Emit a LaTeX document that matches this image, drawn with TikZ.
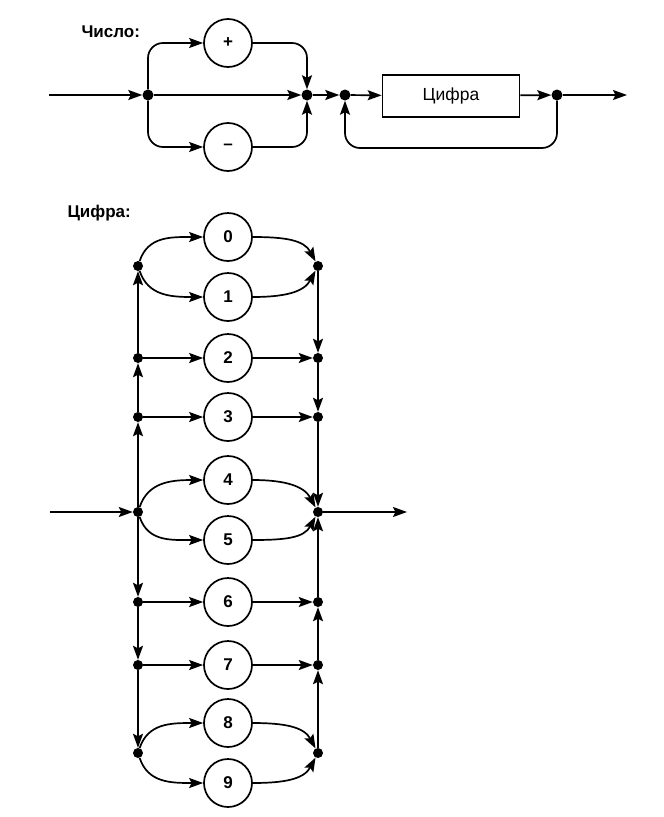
\documentclass[tikz,border=0pt]{standalone}
\usepackage{fontspec}
\setmainfont{Liberation Sans}
\usetikzlibrary{arrows.meta}
\begin{document}
\begin{tikzpicture}[x=1pt,y=-1pt,
  arr/.style={line width=1.7pt, -{Stealth[length=14pt,width=10pt,inset=2.5pt]}},
  dot/.style={circle,fill,inner sep=0pt,minimum size=11pt},
  sdot/.style={circle,fill,inner sep=0pt,minimum size=10pt},
  term/.style={circle,draw,line width=1.7pt,minimum size=48pt,inner sep=0pt,font=\fontsize{17}{19}\selectfont\bfseries},
  nterm/.style={rectangle,draw,line width=1.7pt,minimum width=137pt,minimum height=42pt,font=\fontsize{17.5}{19}\selectfont},
  lbl/.style={font=\fontsize{17}{19}\selectfont\bfseries, anchor=west}]
\useasboundingbox (0,0) rectangle (664,817);
% ---- Число ----
\node[lbl] (t1) at (78,32) {Число:};
\coordinate (s1) at (49,95);
\node[dot] (a1) at (148,95) {};
\node[term] (plus) at (228,43) {+};
\node[term] (minus) at (228,147) {–};
\node[dot] (a2) at (307,95) {};
\node[dot] (a3) at (345,95) {};
\node[nterm] (box) at (451,96) {Цифра};
\node[dot] (a4) at (557,95) {};
\coordinate (e1) at (627,95);
\coordinate (lb) at (451,148);
\draw[arr] (s1) -- (a1);
\draw[arr, rounded corners=15pt] (a1) |- (plus);
\draw[arr, rounded corners=15pt] (a1) |- (minus);
\draw[arr] (a1) -- (a2);
\draw[arr, rounded corners=15pt] (plus) -| (a2);
\draw[arr, rounded corners=15pt] (minus) -| (a2);
\draw[arr] (a2) -- (a3);
\draw[arr] (a3) -- (box);
\draw[arr] (box) -- (a4);
\draw[arr] (a4) -- (e1);
\draw[arr, rounded corners=15pt] (a4) |- (lb) -| (a3);
% ---- Цифра ----
\node[lbl] (t2) at (64,213) {Цифра:};
\foreach \d/\y in {0/237,1/297,2/358,3/417,4/480,5/540,6/602,7/665,8/723,9/783}
  \node[term] (c\d) at (228,\y) {\d};
\foreach \n/\y in {01/266,2/358,3/417,45/512,6/602,7/665,89/753}{
  \node[sdot] (L\n) at (138,\y) {};
  \node[sdot] (R\n) at (318,\y) {};
}
\coordinate (s2) at (50,512);
\coordinate (e2) at (407,512);
\draw[arr] (s2) -- (L45);
\draw[arr] (R45) -- (e2);
% verticals
\draw[arr] (L45) -- (L3);
\draw[arr] (L3) -- (L2);
\draw[arr] (L2) -- (L01);
\draw[arr] (L45) -- (L6);
\draw[arr] (L6) -- (L7);
\draw[arr] (L7) -- (L89);
\draw[arr] (R01) -- (R2);
\draw[arr] (R2) -- (R3);
\draw[arr] (R3) -- (R45);
\draw[arr] (R89) -- (R7);
\draw[arr] (R7) -- (R6);
\draw[arr] (R6) -- (R45);
% straight branches
\foreach \d in {2,3,6,7}{
  \draw[arr] (L\d) -- (c\d);
  \draw[arr] (c\d) -- (R\d);
}
% curved branches
\foreach \u/\v/\n in {0/1/01,4/5/45,8/9/89}{
  \draw[arr] (L\n) .. controls +(10,-30) and +(-32,0) .. (c\u.west);
  \draw[arr] (L\n) .. controls +(10,30) and +(-32,0) .. (c\v.west);
  \draw[arr] (c\u.east) .. controls +(32,0) and +(-14,-26) .. (R\n);
  \draw[arr] (c\v.east) .. controls +(32,0) and +(-14,26) .. (R\n);
}
\end{tikzpicture}
\end{document}
